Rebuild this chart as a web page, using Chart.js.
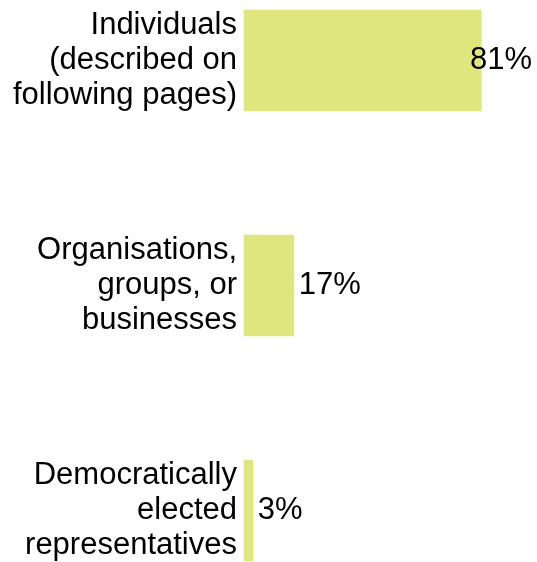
<!DOCTYPE html>
<html>
<head>
<meta charset="utf-8">
<script src="https://cdn.jsdelivr.net/npm/chart.js@4/dist/chart.umd.min.js"></script>
<style>
  html, body { margin: 0; padding: 0; background: #fff; }
  #wrap { width: 537px; height: 562px; }
</style>
</head>
<body>
<div id="wrap"><canvas id="chart"></canvas></div>
<script>
var categories = [
  ['Individuals', '(described on', 'following pages)'],
  ['Organisations,', 'groups, or', 'businesses'],
  ['Democratically', 'elected', 'representatives']
];
var shares = [81, 17, 3]; // percent
var valueLabels = ['81%', '17%', '3%'];

var barColour = '#dfe67e';
var fontFamily = '"Liberation Sans", Arial, sans-serif';

// draws the percent next to each bar, kept inside the canvas
var valueLabelPlugin = {
  id: 'valueLabels',
  afterDatasetsDraw: function(chart) {
    var ctx = chart.ctx;
    var meta = chart.getDatasetMeta(0);
    ctx.save();
    ctx.font = '31px ' + fontFamily;
    ctx.fillStyle = '#000';
    ctx.textBaseline = 'middle';
    ctx.textAlign = 'left';
    meta.data.forEach(function(bar, i) {
      var text = valueLabels[i];
      var w = ctx.measureText(text).width;
      var x = bar.x + 5;
      if (x + w > chart.width - 5) x = chart.width - 5 - w;
      ctx.fillText(text, x, bar.y);
    });
    ctx.restore();
  }
};

new Chart(document.getElementById('chart'), {
  type: 'bar',
  data: {
    labels: categories,
    datasets: [{
      data: shares,
      backgroundColor: barColour,
      borderWidth: 0,
      barThickness: 101,
      clip: false
    }]
  },
  options: {
    indexAxis: 'y',
    responsive: true,
    maintainAspectRatio: false,
    animation: false,
    layout: { padding: { top: 60.5, bottom: 51.5, left: 0, right: 0 } },
    plugins: {
      legend: { display: false },
      tooltip: { enabled: false }
    },
    scales: {
      x: {
        display: false,
        min: 0,
        max: 100
      },
      y: {
        offset: false,
        grid: { display: false, drawTicks: false },
        border: { display: false },
        ticks: {
          color: '#000',
          padding: 7,
          font: { family: fontFamily, size: 31, lineHeight: 1.12 }
        },
        afterFit: function(scale) {
          scale.width = 244;
          scale.paddingTop = 0;
          scale.paddingBottom = 0;
        }
      }
    }
  },
  plugins: [valueLabelPlugin]
});
</script>
</body>
</html>
